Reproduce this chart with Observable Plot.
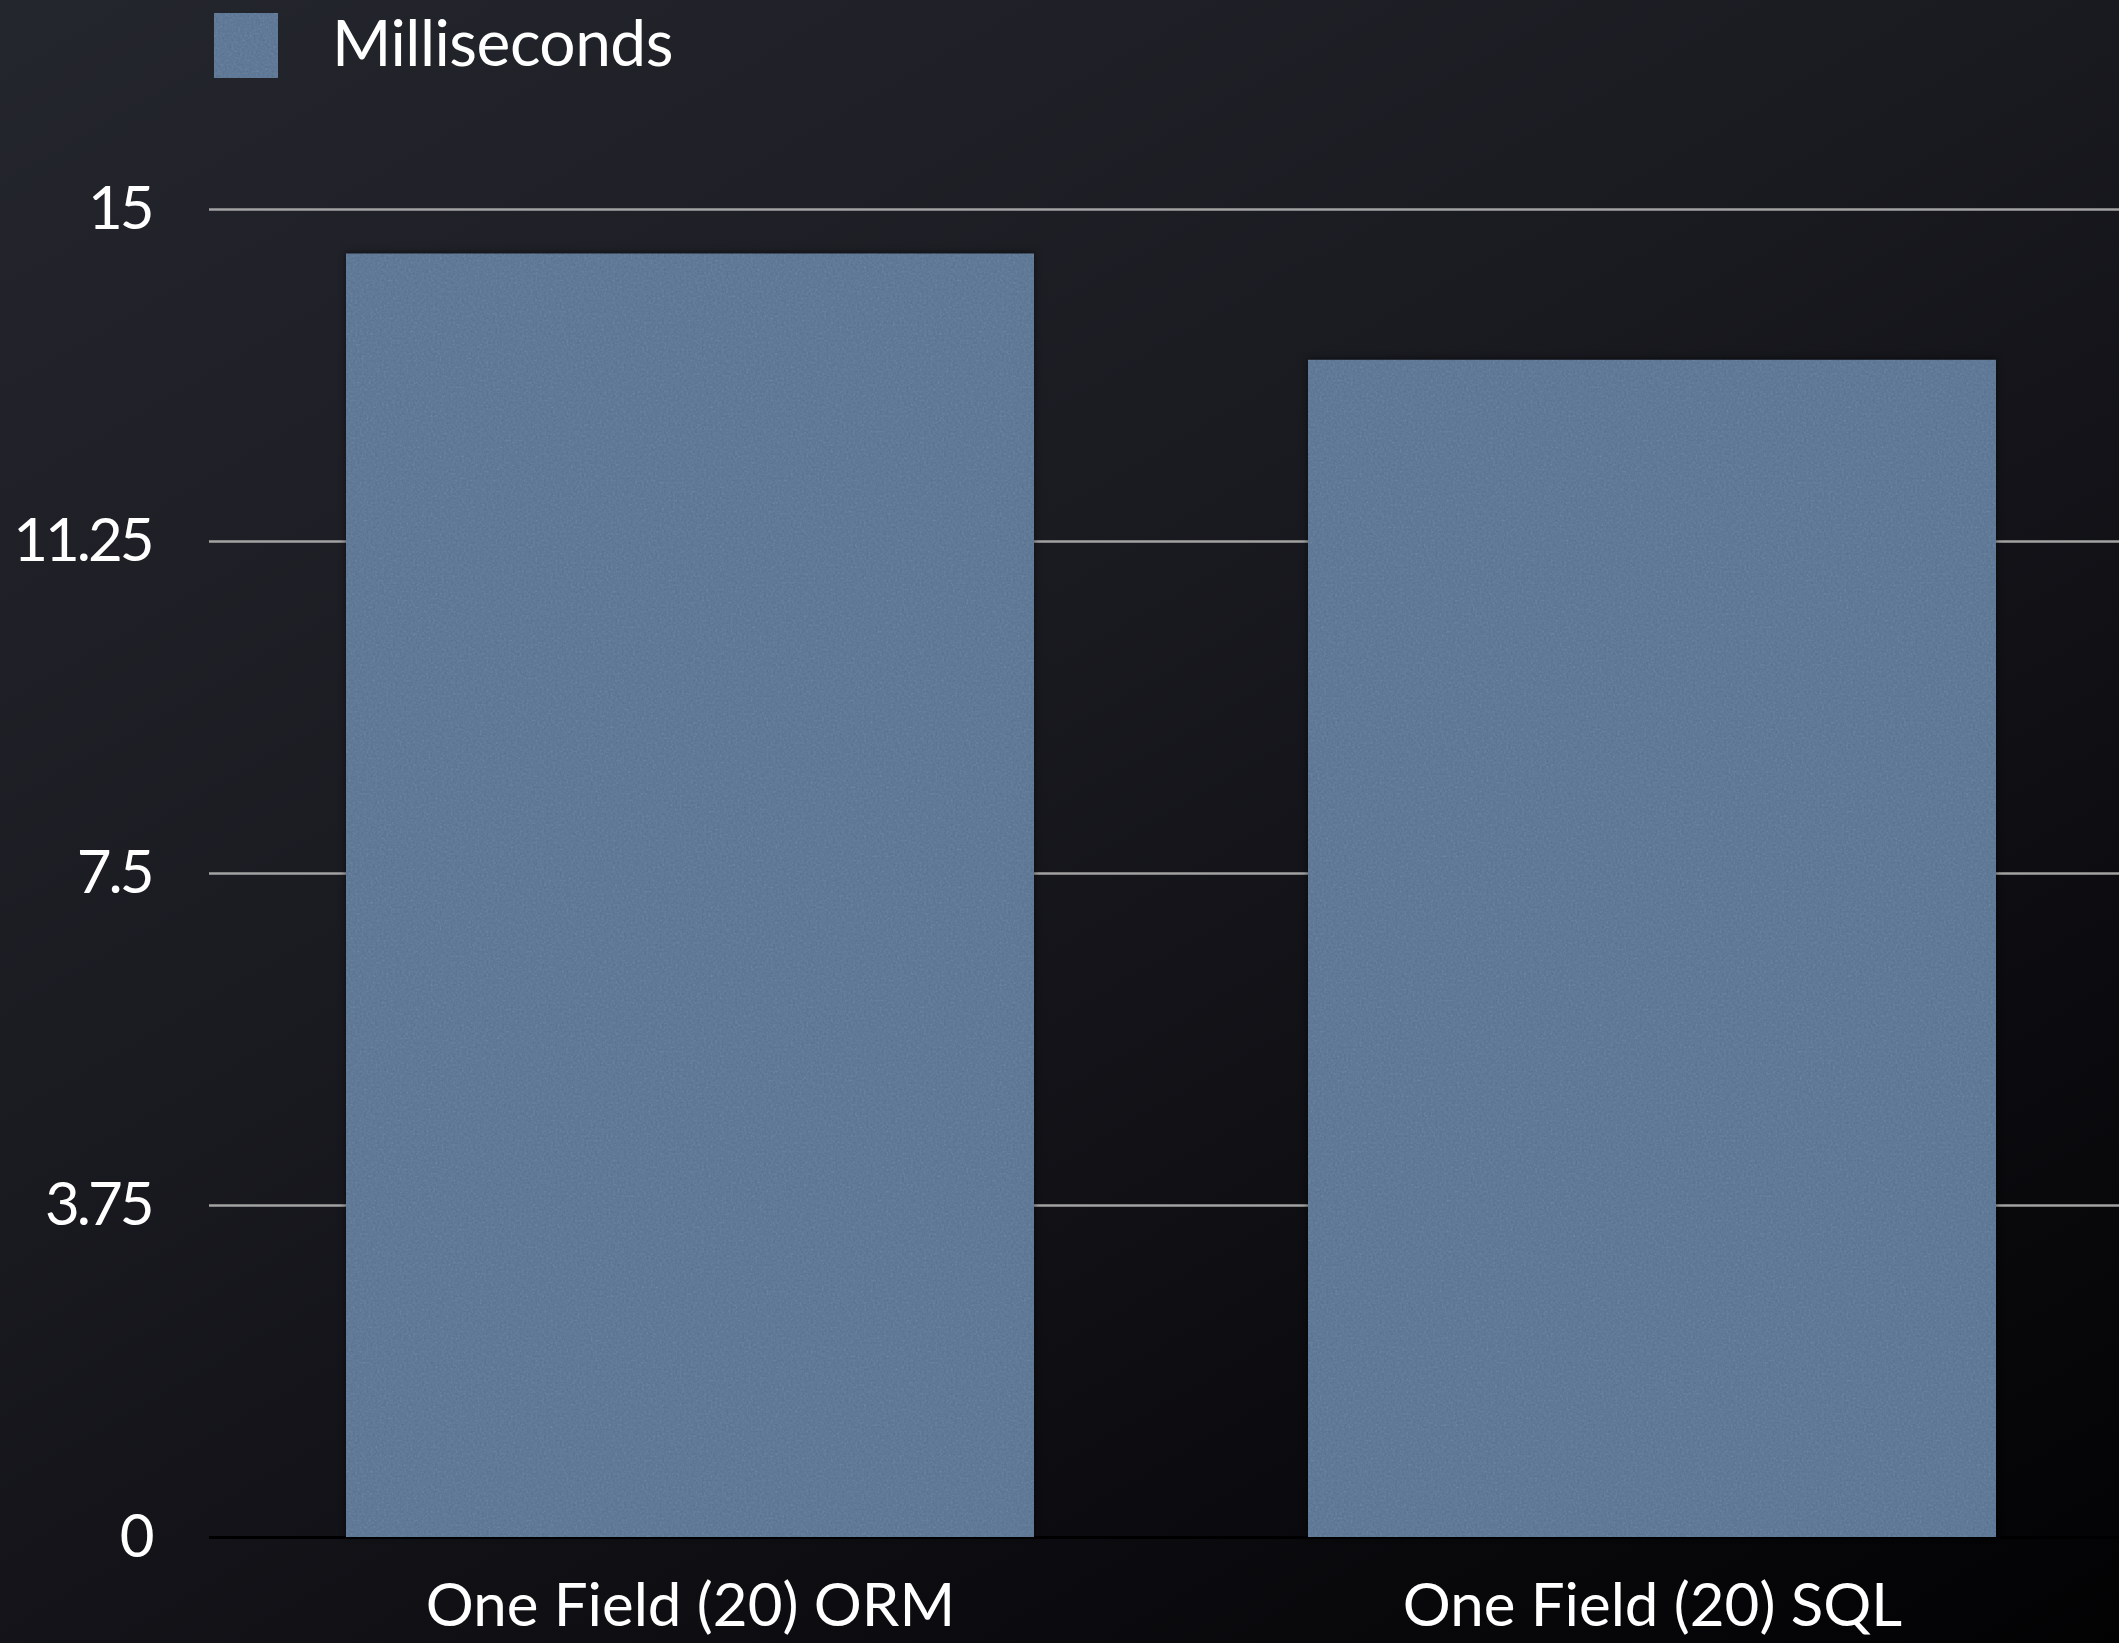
<!DOCTYPE html>
<html>
<head>
<meta charset="utf-8">
<script src="https://cdn.jsdelivr.net/npm/d3@7"></script>
<script src="https://cdn.jsdelivr.net/npm/@observablehq/plot@0.6"></script>
<style>
  html, body { margin: 0; padding: 0; width: 2119px; height: 1643px; overflow: hidden; }
  body {
    background: linear-gradient(150deg, #24262d 0%, #1a1b21 40%, #0c0c10 75%, #020203 100%);
    font-family: Lato, "Open Sans", sans-serif;
    color: #fff;
  }
  #legend { position: relative; height: 100px; }
  #legend svg { position: absolute; left: 214px; top: 13px; }
  #legend .label { position: absolute; left: 332px; top: 2px; font-size: 64px; line-height: 80px; letter-spacing: -0.5px; }
  #chart svg { display: block; overflow: visible; }
  #chart g[aria-label="y-axis tick label"] text { letter-spacing: -3px; }
</style>
</head>
<body>
<div id="legend"></div>
<div id="chart"></div>
<script>
// Series and axis definitions
const categories = ["One Field (20) ORM", "One Field (20) SQL"];
const milliseconds = [14.5, 13.3];
const seriesName = "Milliseconds";
const yTicks = [0, 3.75, 7.5, 11.25, 15];
const barColor = "#5f7896";

const data = categories.map((c, i) => ({category: c, value: milliseconds[i]}));

// Grainy paper-like fill used by the bars and the legend swatch
const textureFilter = (id, shadow) => `
  <filter id="${id}" x="-5%" y="-5%" width="110%" height="110%" color-interpolation-filters="sRGB">
    <feTurbulence type="fractalNoise" baseFrequency="0.45" numOctaves="3" seed="7" result="noise"/>
    <feColorMatrix in="noise" type="saturate" values="0" result="grey"/>
    <feComposite in="SourceGraphic" in2="grey" operator="arithmetic" k1="0" k2="1" k3="0.14" k4="-0.03" result="tex"/>
    <feComposite in="tex" in2="SourceGraphic" operator="in" result="clipped"/>
    ${shadow ? `<feDropShadow in="clipped" dx="0" dy="-1" stdDeviation="3" flood-color="#000" flood-opacity="0.5"/>` : ""}
  </filter>`;

// Legend above the plot
const legend = document.getElementById("legend");
legend.innerHTML = `
  <svg width="64" height="65"><defs>${textureFilter("swatchTexture", false)}</defs>
    <rect width="64" height="65" fill="${barColor}" filter="url(#swatchTexture)"/></svg>
  <div class="label">${seriesName}</div>`;

const chart = Plot.plot({
  width: 2119,
  height: 1543,
  marginTop: 109,
  marginBottom: 106,
  marginLeft: 209,
  marginRight: 0,
  style: {background: "transparent", color: "#ffffff", fontFamily: "Lato, 'Open Sans', sans-serif"},
  x: {domain: categories, range: [209, 2133], paddingInner: 0.285, paddingOuter: 0.1425},
  y: {domain: [0, 15]},
  marks: [
    Plot.ruleY(yTicks.filter(d => d > 0), {stroke: "#a3a3a3", strokeWidth: 2.5}),
    Plot.ruleY([0], {stroke: "#000000", strokeWidth: 3}),
    Plot.barY(data, {x: "category", y: "value", fill: barColor, className: "bars"}),
    Plot.axisY({
      ticks: yTicks, tickFormat: d => String(d), tickSize: 0, tickPadding: 58,
      fontSize: 60, label: null, fill: "#ffffff"
    }),
    Plot.axisX({
      tickSize: 0, tickPadding: 46, fontSize: 60, label: null, fill: "#ffffff"
    })
  ]
});

const svg = d3.select(chart);
svg.insert("defs", ":first-child").html(textureFilter("barTexture", true));
svg.selectAll("g.bars rect").attr("filter", "url(#barTexture)");
document.getElementById("chart").appendChild(chart);
</script>
</body>
</html>
